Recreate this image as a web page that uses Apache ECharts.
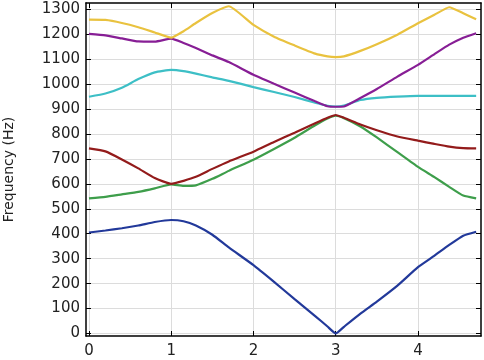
<!DOCTYPE html>
<html>
<head>
<meta charset="utf-8">
<script src="https://cdn.jsdelivr.net/npm/echarts@6/dist/echarts.min.js"></script>
<style>
html,body{margin:0;padding:0;background:#fff;}
#chart{width:484px;height:360px;}
</style>
</head>
<body>
<div id="chart"></div>
<script>
// wave-vector positions along the path
const kPath = [0, 0.2, 0.4, 0.6, 0.8, 1.0, 1.15, 1.3, 1.5, 1.7, 2.0, 2.25, 2.5, 2.75, 2.9, 3.0, 3.1, 3.3, 3.5, 3.75, 4.0, 4.2, 4.38, 4.55, 4.707];
// frequency bands (Hz)
const band1 = [405, 413, 422, 433, 447, 455, 450, 433, 396, 345, 274, 207, 138, 70, 28, 0, 27, 80, 128, 192, 266, 312, 355, 392, 408];
const band2 = [542, 548, 558, 568, 582, 598, 592, 594, 620, 652, 697, 740, 785, 835, 862, 873, 863, 830, 786, 727, 668, 627, 588, 553, 542];
const band3 = [742, 730, 698, 662, 623, 600, 612, 628, 660, 690, 729, 768, 805, 843, 865, 876, 865, 838, 815, 790, 773, 760, 749, 743, 742];
const band4 = [949, 962, 985, 1020, 1047, 1057, 1052, 1042, 1027, 1013, 988, 968, 948, 925, 913, 910, 914, 936, 945, 950, 953, 953, 953, 953, 953];
const band5 = [1201, 1195, 1183, 1171, 1170, 1182, 1165, 1145, 1115, 1088, 1037, 1001, 966, 931, 911, 909, 910, 944, 980, 1030, 1077, 1120, 1158, 1186, 1204];
const band6 = [1258, 1257, 1245, 1228, 1207, 1186, 1212, 1245, 1285, 1312, 1237, 1190, 1155, 1122, 1111, 1108, 1111, 1133, 1160, 1198, 1244, 1278, 1308, 1284, 1260];
const xTicks = [0, 1, 2, 3, 4];
const yTicks = [0, 100, 200, 300, 400, 500, 600, 700, 800, 900, 1000, 1100, 1200, 1300];
const yName = 'Frequency (Hz)';

const bands = [band1, band2, band3, band4, band5, band6];
const colors = ['#22399a', '#3e9e4b', '#931b1b', '#3dbfc6', '#871e95', '#e9c23f'];

const chart = echarts.init(document.getElementById('chart'));
const font = 'DejaVu Sans';
const baseX = {
  type: 'value', min: -0.036, max: 4.766,
  axisLine: {show: true, onZero: false, lineStyle: {color: '#000', width: 1.5}},
  axisTick: {show: true, inside: true, length: 5, customValues: xTicks, lineStyle: {color: '#000'}},
};
const baseY = {
  type: 'value', min: -10, max: 1325,
  axisLine: {show: true, onZero: false, lineStyle: {color: '#000', width: 1.5}},
  axisTick: {show: true, inside: true, length: 5, customValues: yTicks, lineStyle: {color: '#000'}},
};
chart.setOption({
  animation: false,
  backgroundColor: '#fff',
  grid: {left: 86, right: 3, top: 3, bottom: 24, containLabel: false, outerBoundsMode: 'none'},
  xAxis: [
    Object.assign({}, baseX, {
      position: 'bottom',
      axisLabel: {show: true, customValues: xTicks, margin: 8, fontFamily: font, fontSize: 15, color: '#222',
        formatter: v => String(v)},
      splitLine: {show: true, lineStyle: {color: '#dcdcdc', width: 1}}
    }),
    Object.assign({}, baseX, {
      position: 'top',
      axisLabel: {show: false},
      splitLine: {show: false}
    })
  ],
  yAxis: [
    Object.assign({}, baseY, {
      position: 'left',
      name: yName, nameLocation: 'middle', nameGap: 70, nameRotate: 90,
      nameTextStyle: {fontFamily: font, fontSize: 14, color: '#222'},
      axisLabel: {show: true, customValues: yTicks, margin: 6, fontFamily: font, fontSize: 15, color: '#222',
        formatter: v => String(v)},
      splitLine: {show: true, lineStyle: {color: '#dcdcdc', width: 1}}
    }),
    Object.assign({}, baseY, {
      position: 'right',
      axisLabel: {show: false},
      splitLine: {show: false}
    })
  ],
  series: bands.map((b, i) => ({
    type: 'line',
    xAxisIndex: 0, yAxisIndex: 0,
    data: kPath.map((k, j) => [k, b[j]]),
    showSymbol: false,
    smooth: 0.15,
    lineStyle: {color: colors[i], width: 2.2},
    z: 3
  }))
});
</script>
</body>
</html>
